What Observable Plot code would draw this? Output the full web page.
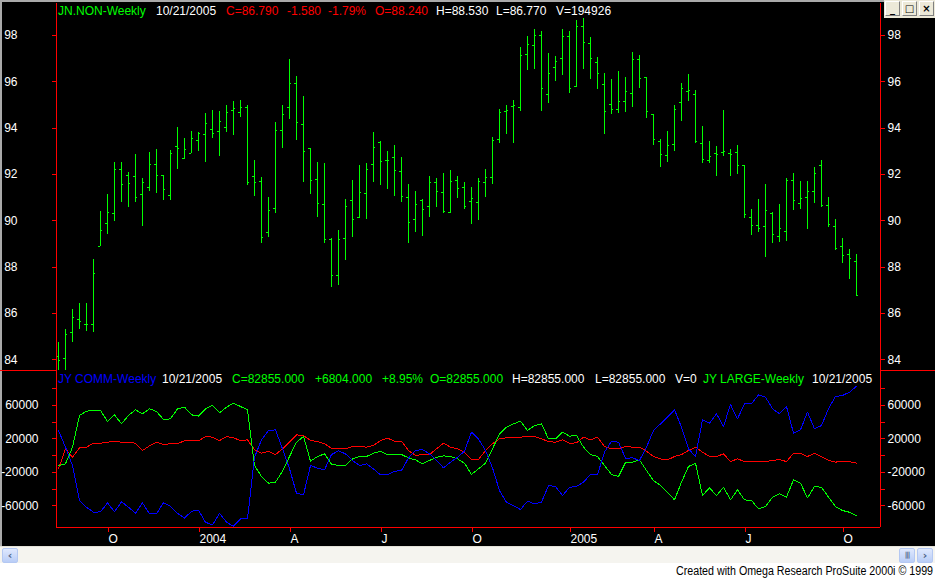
<!DOCTYPE html>
<html><head><meta charset="utf-8">
<script src="https://cdn.jsdelivr.net/npm/d3@7"></script>
<script src="https://cdn.jsdelivr.net/npm/@observablehq/plot@0.6"></script>
<style>
body{margin:0;background:#fff;font-family:"Liberation Sans",Arial,sans-serif;}
#wrap{position:relative;width:935px;height:578px;overflow:hidden;background:#fff;}
#frame{position:absolute;left:0;top:0;width:935px;height:546px;background:#a9a9a9;}
#black{position:absolute;left:2px;top:2px;width:933px;height:544px;background:#000;}
#top,#bot{position:absolute;left:0;}
#top{top:0;height:370px;overflow:hidden;}
#bot{top:370px;}
.hdr{position:absolute;font-size:12px;white-space:pre;line-height:14px;}
.sep{position:absolute;height:1px;background:#ff0000;}
#scroll{position:absolute;left:0;top:546px;width:935px;height:17px;background:#f5f4ef;border-top:1px solid #e3e1d8;box-sizing:border-box;}
.sbtn{position:absolute;top:1px;width:16px;height:15px;box-sizing:border-box;border:1px solid #b4c8f2;border-radius:2px;background:linear-gradient(#dfe8fd,#b9cdf7);color:#4d6185;font:bold 11px "DejaVu Sans",sans-serif;text-align:center;line-height:13px;}
#foot{position:absolute;right:2px;top:564px;font-size:12px;white-space:nowrap;color:#000;transform-origin:right center;}
#winbtns{position:absolute;left:884px;top:0;width:51px;height:18px;background:#ece9d8;}
.wb{position:absolute;top:1px;width:15px;height:15px;box-sizing:border-box;border:1px solid #fff;border-right-color:#808080;border-bottom-color:#808080;background:#ece9d8;color:#000;font:bold 10px "DejaVu Sans",sans-serif;text-align:center;line-height:13px;}
</style></head>
<body>
<div id="wrap">
  <div id="frame"></div>
  <div id="black"></div>
  <div id="top"></div>
  <div id="bot"></div>
  <div class="sep" style="left:0;top:370px;width:56px"></div>
  <div class="sep" style="left:880px;top:370px;width:55px"></div>
  <div id="hdrTop"></div>
  <div id="hdrBot"></div>
  <div id="winbtns">
    <div class="wb" style="left:1px">_</div>
    <div class="wb" style="left:18px">&#9633;</div>
    <div class="wb" style="left:35px">&#215;</div>
  </div>
  <div id="scroll">
    <div class="sbtn" style="left:2px">&#8249;</div>
    <div class="sbtn" style="left:899px;font-size:7px;letter-spacing:-1px">|||</div>
    <div class="sbtn" style="left:917px">&#8250;</div>
  </div>
  <div id="foot">Created with Omega Research ProSuite 2000i &#169; 1999</div>
</div>
<script>
// ---------- DATA ----------
// Weekly bars (index 0 = week of 2003-08-15 ... index 114 = 2005-10-21)
const opens  = [84.15,84.04,85.17,85.73,85.51,85.51,88.90,89.87,90.30,92.20,91.94,91.90,91.12,91.42,92.42,91.94,91.08,93.19,92.68,92.89,93.45,93.71,93.93,93.84,94.02,94.75,94.66,94.88,91.90,91.68,89.48,90.52,93.89,94.88,95.91,94.14,93.11,91.77,90.69,89.18,87.63,89.22,90.86,90.16,91.17,92.42,93.38,92.59,92.73,92.12,90.99,90.04,90.86,90.60,91.64,91.21,90.35,91.73,91.42,90.82,90.78,91.64,91.86,93.51,94.71,94.93,94.88,97.18,97.57,98.00,95.44,96.61,96.99,97.96,95.79,98.39,97.64,96.82,95.87,95.01,94.79,95.14,95.48,96.95,96.17,94.60,93.41,92.81,93.28,95.09,95.60,95.44,93.32,92.59,92.89,92.94,92.89,92.94,92.37,90.13,89.78,89.74,90.30,89.31,89.53,91.73,90.73,90.99,91.25,92.37,90.65,89.74,88.88,88.53,88.24];
const highs  = [84.73,85.30,86.17,86.43,86.43,88.33,90.40,91.14,92.50,92.50,92.07,92.86,91.81,92.94,93.08,91.94,93.04,94.03,93.55,93.86,93.81,94.63,94.76,94.72,94.98,95.15,95.19,94.98,92.60,91.86,91.00,94.23,94.98,96.95,96.22,95.37,93.11,92.50,92.46,89.22,89.58,90.92,91.74,92.39,92.47,93.81,93.42,92.99,93.25,92.73,91.57,91.27,90.92,91.91,91.83,92.04,92.17,91.91,91.65,91.44,91.83,92.21,93.60,94.81,94.98,95.19,97.48,97.94,98.26,98.16,97.22,97.09,98.26,98.16,98.65,98.73,97.91,97.05,96.36,96.10,96.45,96.19,97.27,97.12,96.17,94.60,93.50,93.84,94.96,95.91,96.30,95.61,94.06,93.41,93.19,94.75,93.07,93.24,92.37,90.48,90.91,91.55,90.35,90.69,91.81,92.03,91.68,91.68,92.29,92.59,91.00,90.04,89.22,88.75,88.53];
const lows   = [83.30,83.30,84.76,85.32,85.24,85.19,88.90,89.42,89.97,90.80,90.57,90.80,89.77,91.28,91.19,90.89,90.89,92.23,92.63,92.89,92.99,92.52,93.55,92.78,93.81,93.68,94.46,91.51,91.05,89.03,89.29,90.30,93.12,94.36,93.45,91.67,91.12,90.16,89.01,87.11,87.22,88.30,89.28,90.11,90.06,91.67,91.54,91.35,91.06,90.80,89.03,89.51,89.34,90.16,90.59,90.33,90.33,90.95,90.48,89.85,90.03,91.02,91.55,93.35,93.74,93.35,94.73,96.50,96.53,94.73,95.08,96.03,96.27,95.48,95.77,96.55,96.11,95.68,93.74,94.60,94.65,94.69,94.90,95.73,94.43,93.26,92.31,92.53,92.98,94.30,95.14,93.32,92.49,92.46,91.93,92.79,91.93,92.01,90.11,89.38,89.51,88.43,89.03,89.08,89.12,90.46,90.50,89.64,90.73,90.56,89.70,88.72,88.14,87.48,86.77];
const closes = [83.97,85.08,85.81,85.64,85.51,87.71,89.57,90.35,92.20,91.55,91.60,90.99,91.64,92.42,91.94,91.34,92.89,93.11,93.07,93.54,93.76,94.19,93.76,94.27,94.66,94.84,94.88,91.64,91.64,89.27,90.43,93.89,94.58,95.91,94.23,92.98,91.73,90.73,89.18,87.63,89.19,90.60,90.04,91.21,92.20,93.17,92.55,92.59,92.16,91.04,89.91,90.69,90.48,91.64,91.25,90.42,91.68,91.38,90.63,90.95,91.68,91.86,93.47,94.66,94.75,94.98,97.14,97.61,98.00,95.70,96.35,96.86,97.96,95.70,98.39,97.68,96.99,96.35,94.71,94.79,95.14,95.57,96.95,96.13,94.71,93.50,92.85,93.24,94.79,95.70,95.61,93.41,92.63,92.76,92.85,92.98,92.85,92.37,90.26,89.78,89.65,90.43,89.40,89.65,91.73,90.86,90.95,91.25,92.03,90.65,89.83,88.79,88.49,88.36,86.79];

// Net positions, thousands of contracts
const commercials = [30,10.2,-11.7,-53.5,-61.5,-67.5,-67,-56.3,-67,-55,-61.5,-68.7,-56.3,-69.4,-69.4,-56,-60.5,-68.7,-74.6,-66.3,-65.1,-79.4,-82.6,-68.7,-79.4,-84.2,-75.4,-75.4,-1.8,19,30,30.9,8.2,-15.6,-44.7,-46.7,-11.7,-14.9,-16.8,1.4,5.8,2.2,-5.7,-11.7,-9.7,-15.7,-22.9,-22.9,-18.5,-17.7,-2.6,6.2,7.4,2.2,-5.7,-14.5,-7.7,-1.8,5.4,28.1,20.1,6.2,-14.5,-41.6,-55.5,-59.5,-64.2,-54.3,-57.5,-55.5,-35.6,-36.8,-47.5,-37.6,-36.8,-31.6,-22.4,-22.4,4.2,17.3,16.1,-3,-2.6,-5.7,10.2,30.1,38,46,54.8,34,8.2,-1,42.8,38.8,50,34.9,61.1,44,62,62,72.7,69.9,56,50,58.7,26.9,30.9,52,32.1,36,56,70.7,71.9,75.8,82.855];
const largeSpecs  = [-11.7,-9.7,10.2,48,53.2,54,54,40.8,48.8,38,48,54.8,50,56,52.8,43.2,44,56,58,48.8,47.2,56,60,51.2,58,62.7,58.7,54.8,-11.7,-24.8,-32.8,-31.6,-18.5,-1,16.1,22.9,-6.5,-1,2.2,-10,-11.7,-11.7,-3.8,-1,-1,3,5,1.4,1.4,1.4,-2.6,-5,-9.7,-5.7,-1.8,-0.2,-1,-3.8,-8.9,-22.4,-15.7,-8.9,8.2,26.1,34,38,41.2,30.1,36,38,20.1,20.1,28.1,23.3,24.1,10.2,1.4,-1,-11.7,-22.4,-24.8,-8,-7.7,-5,-17.7,-29.6,-35.6,-43.6,-52.7,-31.6,-12.9,-8.9,-47.5,-38.4,-47.5,-37.6,-52.7,-40.8,-52.7,-53.5,-63.4,-60.7,-49.5,-45.5,-49.5,-28.8,-32.8,-50.3,-36.8,-37.6,-49.5,-60.7,-65.4,-67.5,-71.4];
const smallSpecs  = [-15.7,8.2,-1.8,9.4,10.2,14.9,14.9,16.1,17.3,16.1,16.1,14.9,6.2,11.8,16.1,13.4,14.2,14.6,17.7,17.7,17.7,22.9,22.1,18.1,22.9,21.3,18.1,18.9,7.1,3,5,1.4,8.2,16.1,24.9,24.1,18.1,16.9,14.2,9,8.2,8.2,11,11,10.2,12.2,18.1,20.9,17.3,17.3,6.2,0.2,1.4,1.4,8.2,14.9,10.2,8.2,4.2,-4.6,-4.6,6.2,14.2,20.1,21.3,22.1,22.1,23.3,22.9,20.1,16.9,16.1,18.9,14.9,15.3,22.1,18.9,22.1,11,8.2,8.2,11,10.2,10.2,5.4,-1,-3.8,-5,-1,1.4,6.2,10.2,4.2,-1,-1,2.2,-7,-3.8,-7,-7,-7,-7,-5.7,-4.6,-7,3,3,-1,3,-1,-5.7,-7.7,-6.5,-7,-8.9];

const priceTicks = [84,86,88,90,92,94,96,98];
const netTicks = [-60000,-40000,-20000,0,20000,40000,60000,80000];
const netLabeled = [-60000,-20000,20000,60000];
const monthTickIndex = [7,20,33,46,59,73,85,98,112];
const monthTickLabels = ["O","2004","A","J","O","2005","A","J","O"];

const topHeader = [
  {text:"JN.NON-Weekly", x:58, color:"#00ff00"},
  {text:"10/21/2005", x:156, color:"#ffffff"},
  {text:"C=86.790", x:226, color:"#ff0000"},
  {text:"-1.580", x:287, color:"#ff0000"},
  {text:"-1.79%", x:328, color:"#ff0000"},
  {text:"O=88.240", x:375, color:"#ff0000"},
  {text:"H=88.530", x:436, color:"#ffffff"},
  {text:"L=86.770", x:496, color:"#ffffff"},
  {text:"V=194926", x:556, color:"#ffffff"}
];
const botHeader = [
  {text:"JY COMM-Weekly", x:58, color:"#0000ff"},
  {text:"10/21/2005", x:162, color:"#ffffff"},
  {text:"C=82855.000", x:232, color:"#00ff00"},
  {text:"+6804.000", x:315, color:"#00ff00"},
  {text:"+8.95%", x:382, color:"#00ff00"},
  {text:"O=82855.000", x:430, color:"#00ff00"},
  {text:"H=82855.000", x:512, color:"#ffffff"},
  {text:"L=82855.000", x:595, color:"#ffffff"},
  {text:"V=0", x:675, color:"#ffffff"},
  {text:"JY LARGE-Weekly", x:703, color:"#00ff00"},
  {text:"10/21/2005", x:812, color:"#ffffff"}
];

// ---------- BUILD ----------
const RED = "#ff0000", GREEN = "#00ff00", BLUE = "#0000ff";
const bars = opens.map((o, i) => ({i, open:o, high:highs[i], low:lows[i], close:closes[i]}));
const net = [];
[["comm", commercials, BLUE], ["large", largeSpecs, GREEN], ["small", smallSpecs, RED]].forEach(([s, arr, c]) => {
  arr.forEach((v, i) => net.push({s, i, v: v * 1000, c}));
});
const xDomain = [-2/7, 822/7];
const svgStyle = {background:"transparent", color:"#ffffff", fontFamily:"'Liberation Sans', Arial, sans-serif", fontSize:"12px", overflow:"visible", shapeRendering:"crispEdges"};

const topPlot = Plot.plot({
  width: 935, height: 370,
  marginLeft: 56, marginRight: 55, marginTop: 3, marginBottom: 0,
  style: svgStyle,
  x: {domain: xDomain, axis: null, label: null},
  y: {domain: [83.538, 99.381], axis: null, label: null},
  marks: [
    Plot.ruleX(bars, {x: "i", y1: "low", y2: "high", stroke: GREEN, clip: true}),
    Plot.ruleY(bars, {y: "open", x1: d => d.i - 0.3, x2: "i", stroke: GREEN, clip: true}),
    Plot.ruleY(bars, {y: "close", x1: "i", x2: d => d.i + 0.3, stroke: GREEN, clip: true}),
    Plot.ruleX([xDomain[0], xDomain[1]], {stroke: RED}),
    Plot.axisY({anchor: "left", ticks: priceTicks, tickSize: 4, tickPadding: 35, stroke: RED, fill: "#ffffff", label: null, tickFormat: d => String(d)}),
    Plot.axisY({anchor: "right", ticks: priceTicks, tickSize: 4, tickPadding: 3, stroke: RED, fill: "#ffffff", label: null, tickFormat: d => String(d)})
  ]
});
document.getElementById("top").appendChild(topPlot);

const labelMap = new Map(monthTickIndex.map((d, k) => [d, monthTickLabels[k]]));
const yNet = [-85700, 101700];
const botPlot = Plot.plot({
  width: 935, height: 175,
  marginLeft: 56, marginRight: 55, marginTop: 0, marginBottom: 18,
  style: svgStyle,
  x: {domain: xDomain, axis: null, label: null},
  y: {domain: yNet, axis: null, label: null},
  marks: [
    Plot.line(net.filter(d => d.s === "small"), {x: "i", y: "v", stroke: RED, strokeWidth: 1}),
    Plot.line(net.filter(d => d.s === "large"), {x: "i", y: "v", stroke: GREEN, strokeWidth: 1}),
    Plot.line(net.filter(d => d.s === "comm"), {x: "i", y: "v", stroke: BLUE, strokeWidth: 1}),
    Plot.ruleX([xDomain[0], xDomain[1]], {stroke: RED}),
    Plot.ruleY([yNet[0]], {stroke: RED}),
    Plot.axisY({anchor: "left", ticks: netTicks, tickSize: 4, tickPadding: 14, stroke: RED, fill: "#ffffff", label: null,
      tickFormat: d => netLabeled.includes(d) ? String(d) : ""}),
    Plot.axisY({anchor: "right", ticks: netTicks, tickSize: 4, tickPadding: 3, stroke: RED, fill: "#ffffff", label: null,
      tickFormat: d => netLabeled.includes(d) ? String(d) : ""}),
    Plot.axisX({anchor: "bottom", ticks: monthTickIndex, tickSize: 5, tickPadding: 2, stroke: RED, fill: "#ffffff", label: null,
      textAnchor: "start", dx: 1, tickFormat: d => labelMap.get(d) ?? ""})
  ]
});
document.getElementById("bot").appendChild(botPlot);

function header(id, items, top) {
  const host = document.getElementById(id);
  items.forEach(h => {
    const s = document.createElement("div");
    s.className = "hdr";
    s.style.left = h.x + "px";
    s.style.top = top + "px";
    s.style.color = h.color;
    s.textContent = h.text;
    host.appendChild(s);
  });
}
header("hdrTop", topHeader, 4);
header("hdrBot", botHeader, 372);

const foot = document.getElementById("foot");
const fw = foot.getBoundingClientRect().width;
foot.style.transform = "scaleX(" + (257 / fw) + ")";
</script>
</body></html>
